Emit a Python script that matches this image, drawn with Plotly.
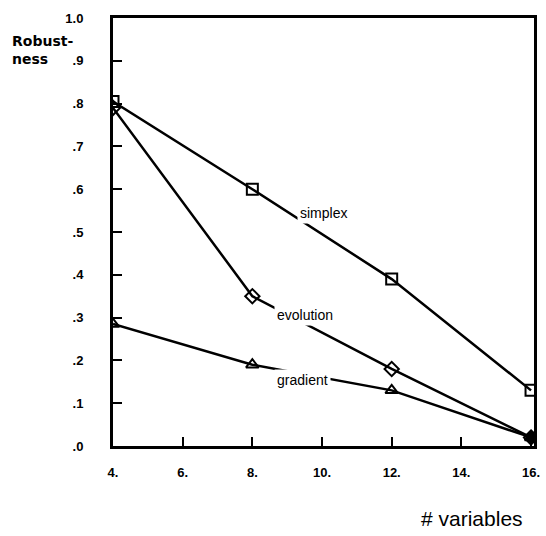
import plotly.graph_objects as go

# number of variables
n_vars = [4, 8, 12, 16]

# robustness per method
simplex = [0.805, 0.60, 0.39, 0.13]
evolution = [0.79, 0.35, 0.18, 0.02]
gradient = [0.285, 0.19, 0.13, 0.02]

x_ticks = [4, 6, 8, 10, 12, 14, 16]
x_labels = ["4.", "6.", "8.", "10.", "12.", "14.", "16."]
y_ticks = [0, 0.1, 0.2, 0.3, 0.4, 0.5, 0.6, 0.7, 0.8, 0.9, 1.0]
y_labels = [".0", ".1", ".2", ".3", ".4", ".5", ".6", ".7", ".8", ".9", "1.0"]

fig = go.Figure()

series = [
    ("simplex", simplex, "square-open"),
    ("evolution", evolution, "diamond-open"),
    ("gradient", gradient, "triangle-up-open"),
]
for name, ys, sym in series:
    fig.add_trace(go.Scatter(
        x=n_vars, y=ys, mode="lines+markers", name=name,
        line=dict(color="black", width=2.5),
        marker=dict(symbol=sym, size=11, color="black",
                    line=dict(color="black", width=2)),
        showlegend=False,
    ))

# filled dot where evolution and gradient meet at 16
fig.add_trace(go.Scatter(
    x=[n_vars[-1]], y=[evolution[-1]], mode="markers",
    marker=dict(symbol="circle", size=11, color="black"),
    showlegend=False,
))

# line labels, white box breaks the line under them
labels = [("simplex", 10.03, 0.544), ("evolution", 9.52, 0.306), ("gradient", 9.43, 0.154)]
for txt, lx, ly in labels:
    fig.add_annotation(
        x=lx, y=ly, text=txt, showarrow=False,
        font=dict(family="Liberation Sans", size=14, color="black"),
        bgcolor="white", borderpad=2,
    )

fig.add_annotation(
    xref="paper", yref="paper", x=0, y=0.925, xshift=-103,
    xanchor="left", yanchor="middle", align="left",
    text="Robust-<br>ness", showarrow=False,
    font=dict(family="DejaVu Sans", size=14, color="black", weight="bold"),
)
fig.add_annotation(
    xref="paper", yref="paper", x=1, y=0, xshift=-9, yshift=-72,
    xanchor="right", yanchor="middle",
    text="# variables", showarrow=False,
    font=dict(family="Liberation Sans", size=21, color="black"),
)

fig.update_xaxes(
    range=[4, 16.085], tickvals=x_ticks, ticktext=x_labels,
    ticks="inside", ticklen=9, tickwidth=2, tickcolor="black",
    showline=True, linecolor="black", linewidth=3, mirror=True,
    showgrid=False, zeroline=False, ticklabelstandoff=12,
    tickfont=dict(family="Liberation Sans", size=13, color="black", weight="bold"),
)
fig.update_yaxes(
    range=[0, 1.0], tickvals=y_ticks, ticktext=y_labels,
    ticks="inside", ticklen=9, tickwidth=2, tickcolor="black",
    showline=True, linecolor="black", linewidth=3, mirror=True,
    showgrid=False, zeroline=False, ticklabelstandoff=24,
    tickfont=dict(family="Liberation Sans", size=13, color="black", weight="bold"),
)

fig.update_layout(
    width=546, height=536,
    margin=dict(l=113, r=6, t=18, b=90),
    plot_bgcolor="white", paper_bgcolor="white",
)

# drop the default body margin so the figure fills the window
fig.write_html("out.html", config={"displayModeBar": False},
               post_script="document.body.style.margin='0';")
